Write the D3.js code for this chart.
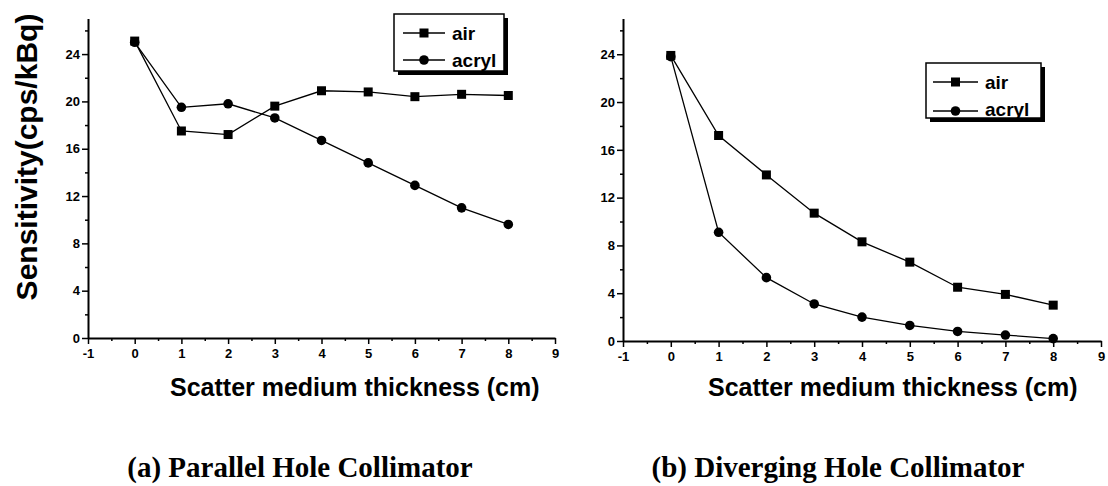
<!DOCTYPE html>
<html>
<head>
<meta charset="utf-8">
<script src="https://cdn.jsdelivr.net/npm/d3@7"></script>
<style>
  html, body { margin: 0; padding: 0; background: #fff; }
  svg { display: block; }
</style>
</head>
<body>
<svg id="chart" width="1108" height="486"></svg>
<script>
// ---- data ----
const thickness = [0, 1, 2, 3, 4, 5, 6, 7, 8];
const parallelAir = [25.1, 17.5, 17.2, 19.6, 20.9, 20.8, 20.4, 20.6, 20.5];
const parallelAcryl = [25.0, 19.5, 19.8, 18.6, 16.7, 14.8, 12.9, 11.0, 9.6];
const divergingAir = [23.9, 17.2, 13.9, 10.7, 8.3, 6.6, 4.5, 3.9, 3.0];
const divergingAcryl = [23.8, 9.1, 5.3, 3.1, 2.0, 1.3, 0.8, 0.5, 0.2];
const seriesNames = ["air", "acryl"];
const xTicks = [-1, 0, 1, 2, 3, 4, 5, 6, 7, 8, 9];
const xMinorTicks = [-0.5, 0.5, 1.5, 2.5, 3.5, 4.5, 5.5, 6.5, 7.5, 8.5];
const yTicks = [0, 4, 8, 12, 16, 20, 24];
const yMinorTicks = [2, 6, 10, 14, 18, 22, 26];
const yLabel = "Sensitivity(cps/kBq)";
const xLabel = "Scatter medium thickness (cm)";
const captions = ["(a) Parallel Hole Collimator", "(b) Diverging Hole Collimator"];

const svg = d3.select("#chart");
const SANS = '"Liberation Sans", Arial, sans-serif';
const SERIF = '"Liberation Serif", "Times New Roman", serif';

const panels = [
  { air: parallelAir, acryl: parallelAcryl, x0: 88, x1: 555, y0: 338, y1: 18.6,
    legend: { x: 394, y: 14, w: 110, h: 57, lineX0: 403, lineX1: 445, textX: 452, rows: [33, 60], base: [40, 67] },
    xTitleX: 170, caption: captions[0], capX: 300 },
  { air: divergingAir, acryl: divergingAcryl, x0: 623, x1: 1101, y0: 341, y1: 18.4,
    legend: { x: 926, y: 63, w: 115, h: 55, lineX0: 933, lineX1: 978, textX: 985, rows: [82, 111], base: [89, 116] },
    xTitleX: 708, caption: captions[1], capX: 838 }
];

function styleTickText(sel) {
  sel.selectAll(".tick text")
    .style("font-family", SANS).style("font-weight", "bold").style("font-size", "13px").attr("fill", "#000");
}

panels.forEach(p => {
  const x = d3.scaleLinear().domain([-1, 9]).range([p.x0, p.x1]);
  const y = d3.scaleLinear().domain([0, 27]).range([p.y0, p.y1]);
  const g = svg.append("g");

  // minor ticks
  g.append("g").attr("transform", `translate(0,${p.y0})`)
    .call(d3.axisBottom(x).tickValues(xMinorTicks).tickSize(3).tickFormat(""))
    .call(s => s.select(".domain").remove())
    .selectAll("line").attr("stroke", "#000").attr("stroke-width", 1.5);
  g.append("g").attr("transform", `translate(${p.x0},0)`)
    .call(d3.axisLeft(y).tickValues(yMinorTicks).tickSize(3).tickFormat(""))
    .call(s => s.select(".domain").remove())
    .selectAll("line").attr("stroke", "#000").attr("stroke-width", 1.5);

  // major axes
  const xa = g.append("g").attr("transform", `translate(0,${p.y0})`)
    .call(d3.axisBottom(x).tickValues(xTicks).tickSize(6).tickSizeOuter(0).tickPadding(5).tickFormat(d => String(d)));
  xa.select(".domain").attr("stroke", "#000").attr("stroke-width", 2);
  xa.selectAll(".tick line").attr("stroke", "#000").attr("stroke-width", 1.5);
  styleTickText(xa);

  const ya = g.append("g").attr("transform", `translate(${p.x0},0)`)
    .call(d3.axisLeft(y).tickValues(yTicks).tickSize(6).tickSizeOuter(0).tickPadding(2).tickFormat(d => String(d)));
  ya.select(".domain").attr("stroke", "#000").attr("stroke-width", 2);
  ya.selectAll(".tick line").attr("stroke", "#000").attr("stroke-width", 1.5);
  styleTickText(ya);

  const line = d3.line().x((d, i) => x(thickness[i])).y(d => y(d));
  [p.air, p.acryl].forEach(vals => {
    g.append("path").datum(vals).attr("d", line)
      .attr("fill", "none").attr("stroke", "#000").attr("stroke-width", 1.3);
  });
  // markers
  g.selectAll(".sq").data(p.air).enter().append("rect")
    .attr("x", (d, i) => x(thickness[i]) - 4.5).attr("y", d => y(d) - 4.5)
    .attr("width", 9).attr("height", 9).attr("fill", "#000");
  g.selectAll(".ci").data(p.acryl).enter().append("circle")
    .attr("cx", (d, i) => x(thickness[i])).attr("cy", d => y(d))
    .attr("r", 4.8).attr("fill", "#000");

  // legend
  const L = p.legend;
  g.append("rect").attr("x", L.x + 4).attr("y", L.y + 4).attr("width", L.w).attr("height", L.h).attr("fill", "#000");
  g.append("rect").attr("x", L.x).attr("y", L.y).attr("width", L.w).attr("height", L.h)
    .attr("fill", "#fff").attr("stroke", "#000").attr("stroke-width", 1.5);
  seriesNames.forEach((name, k) => {
    const cy = L.rows[k];
    g.append("line").attr("x1", L.lineX0).attr("x2", L.lineX1).attr("y1", cy).attr("y2", cy)
      .attr("stroke", "#000").attr("stroke-width", 1.3);
    const cx = (L.lineX0 + L.lineX1) / 2;
    if (k === 0) g.append("rect").attr("x", cx - 4.5).attr("y", cy - 4.5).attr("width", 9).attr("height", 9).attr("fill", "#000");
    else g.append("circle").attr("cx", cx).attr("cy", cy).attr("r", 4.8).attr("fill", "#000");
    g.append("text").attr("x", L.textX).attr("y", L.base[k]).text(name)
      .attr("font-family", SANS).attr("font-weight", "bold").attr("font-size", 19).attr("fill", "#000");
  });

  // x title
  g.append("text").attr("x", p.xTitleX).attr("y", 396).text(xLabel)
    .attr("font-family", SANS).attr("font-weight", "bold").attr("font-size", 25).attr("fill", "#000");
  // caption
  g.append("text").attr("x", p.capX).attr("y", 477).attr("text-anchor", "middle").text(p.caption)
    .attr("font-family", SERIF).attr("font-weight", "bold").attr("font-size", 29).attr("fill", "#000");
});

// y title (left only)
svg.append("text").attr("transform", "translate(37,157) rotate(-90)")
  .attr("text-anchor", "middle").text(yLabel)
  .attr("font-family", SANS).attr("font-weight", "bold").attr("font-size", 30).attr("fill", "#000");
</script>
</body>
</html>
